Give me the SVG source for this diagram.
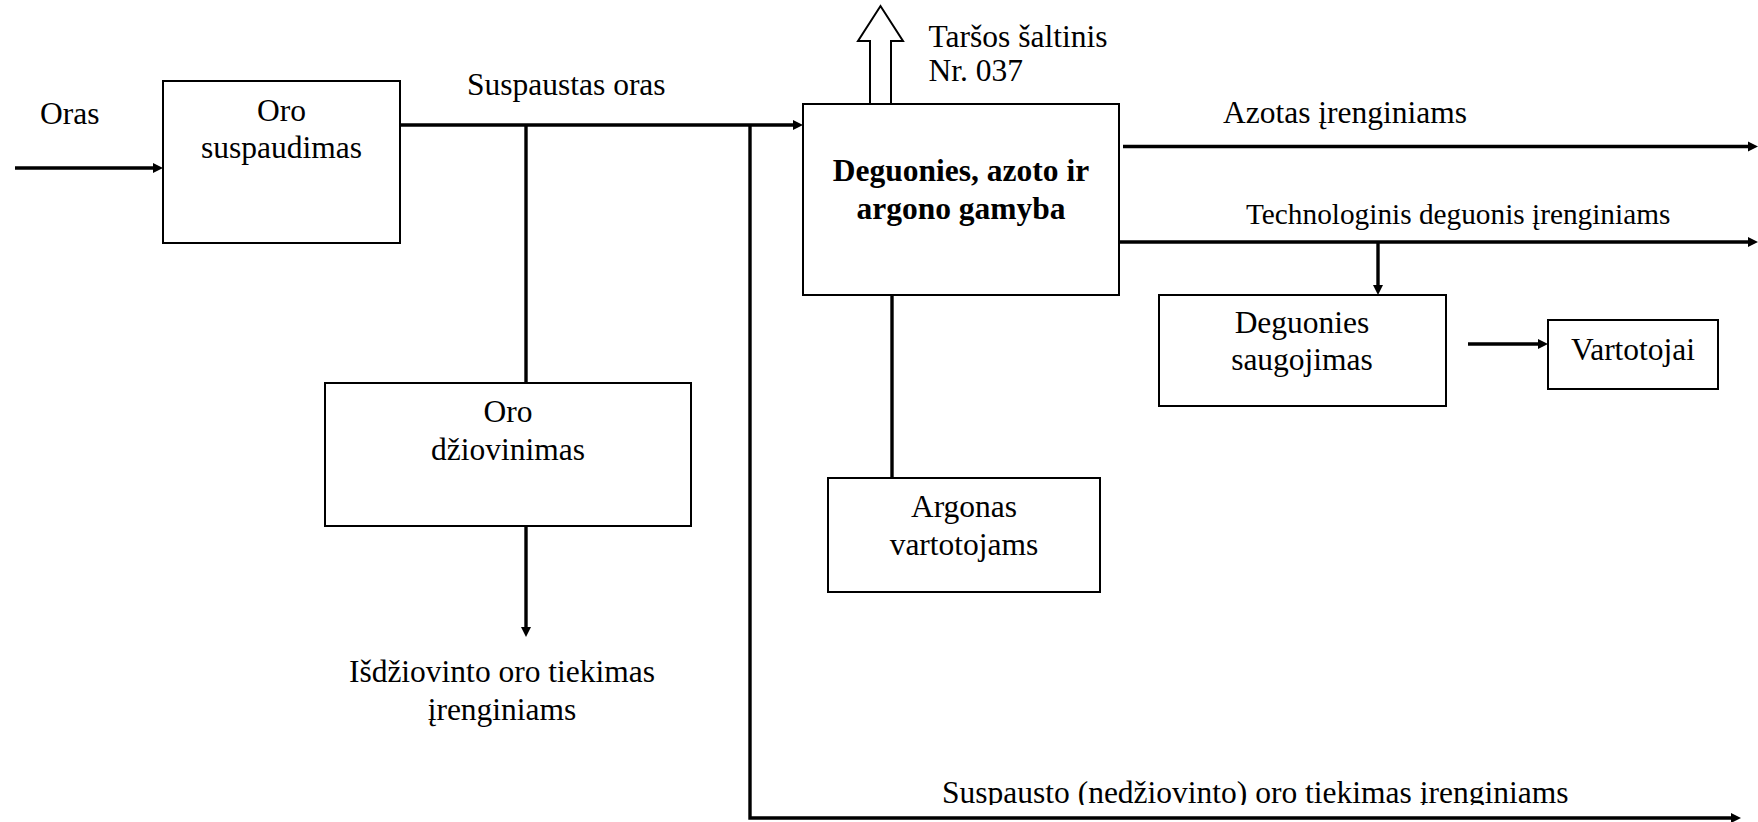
<svg xmlns="http://www.w3.org/2000/svg" width="1758" height="822" viewBox="0 0 1758 822">
  <defs>
    <style>
      .box { fill: #ffffff; stroke: #000000; stroke-width: 2; }
      .flow { fill: none; stroke: #000000; stroke-width: 3.4; }
      .lbl { font-family: "Liberation Serif", "Times New Roman", serif; font-size: 31.5px; fill: #000000; }
      .mid { text-anchor: middle; }
      .bold { font-weight: bold; }
      .small { font-size: 29.3px; }
    </style>
    <marker id="head" viewBox="0 0 10 10" refX="4" refY="5" markerWidth="10" markerHeight="10.5" markerUnits="userSpaceOnUse" orient="auto">
      <path d="M0,0 L10,5 L0,10 z" fill="#000000"/>
    </marker>
    <clipPath id="clip-bottom-label">
      <rect x="0" y="740" width="1758" height="65"/>
    </clipPath>
  </defs>

  <rect width="1758" height="822" fill="#ffffff"/>

  <!-- connectors -->
  <g id="connectors">
    <!-- air intake -->
    <path class="flow" d="M15,168 H157" marker-end="url(#head)"/>
    <!-- compressed air main -->
    <path class="flow" d="M400,125 H797" marker-end="url(#head)"/>
    <!-- branch to drying -->
    <path class="flow" d="M526,125 V383"/>
    <!-- dried air out -->
    <path class="flow" d="M526,526 V631" marker-end="url(#head)"/>
    <!-- undried compressed air supply -->
    <path class="flow" d="M750,125 V818 H1735" marker-end="url(#head)"/>
    <!-- argon take-off -->
    <path class="flow" d="M892,295 V478"/>
    <!-- nitrogen -->
    <path class="flow" d="M1123,146.5 H1752" marker-end="url(#head)"/>
    <!-- technological oxygen -->
    <path class="flow" d="M1119,242 H1752" marker-end="url(#head)"/>
    <!-- to oxygen storage -->
    <path class="flow" d="M1378,242 V289" marker-end="url(#head)"/>
    <!-- storage to consumers -->
    <path class="flow" d="M1468,344 H1542" marker-end="url(#head)"/>
    <!-- emission source (hollow arrow) -->
    <polygon points="870,104 870,41 858,41 880.5,6 903,41 891,41 891,104" fill="#ffffff" stroke="#000000" stroke-width="2" stroke-linejoin="miter"/>
  </g>

  <!-- free labels -->
  <g id="labels">
    <text class="lbl" x="40" y="124">Oras</text>
    <text class="lbl" x="467" y="95">Suspaustas oras</text>
    <text class="lbl" x="928.5" y="47">Taršos šaltinis</text>
    <text class="lbl" x="928.5" y="81">Nr. 037</text>
    <text class="lbl" x="1223" y="123">Azotas įrenginiams</text>
    <text class="lbl small" x="1246" y="224">Technologinis deguonis įrenginiams</text>
    <text class="lbl mid" x="502" y="682">Išdžiovinto oro tiekimas</text>
    <text class="lbl mid" x="502" y="720">įrenginiams</text>
    <text class="lbl" x="942" y="802.5" clip-path="url(#clip-bottom-label)">Suspausto (nedžiovinto) oro tiekimas įrenginiams</text>
  </g>

  <g id="node-compression">
    <rect class="box" x="163" y="81" width="237" height="162"/>
    <text class="lbl mid" x="281.5" y="121">Oro</text>
    <text class="lbl mid" x="281.5" y="158">suspaudimas</text>
  </g>

  <g id="node-drying">
    <rect class="box" x="325" y="383" width="366" height="143"/>
    <text class="lbl mid" x="508" y="422">Oro</text>
    <text class="lbl mid" x="508" y="460">džiovinimas</text>
  </g>

  <g id="node-production">
    <rect class="box" x="803" y="104" width="316" height="191"/>
    <text class="lbl mid bold" x="961" y="181">Deguonies, azoto ir</text>
    <text class="lbl mid bold" x="961" y="219">argono gamyba</text>
  </g>

  <g id="node-argon">
    <rect class="box" x="828" y="478" width="272" height="114"/>
    <text class="lbl mid" x="964" y="517">Argonas</text>
    <text class="lbl mid" x="964" y="555">vartotojams</text>
  </g>

  <g id="node-storage">
    <rect class="box" x="1159" y="295" width="287" height="111"/>
    <text class="lbl mid" x="1302" y="333">Deguonies</text>
    <text class="lbl mid" x="1302" y="370">saugojimas</text>
  </g>

  <g id="node-consumers">
    <rect class="box" x="1548" y="320" width="170" height="69"/>
    <text class="lbl mid" x="1633" y="360">Vartotojai</text>
  </g>
</svg>
